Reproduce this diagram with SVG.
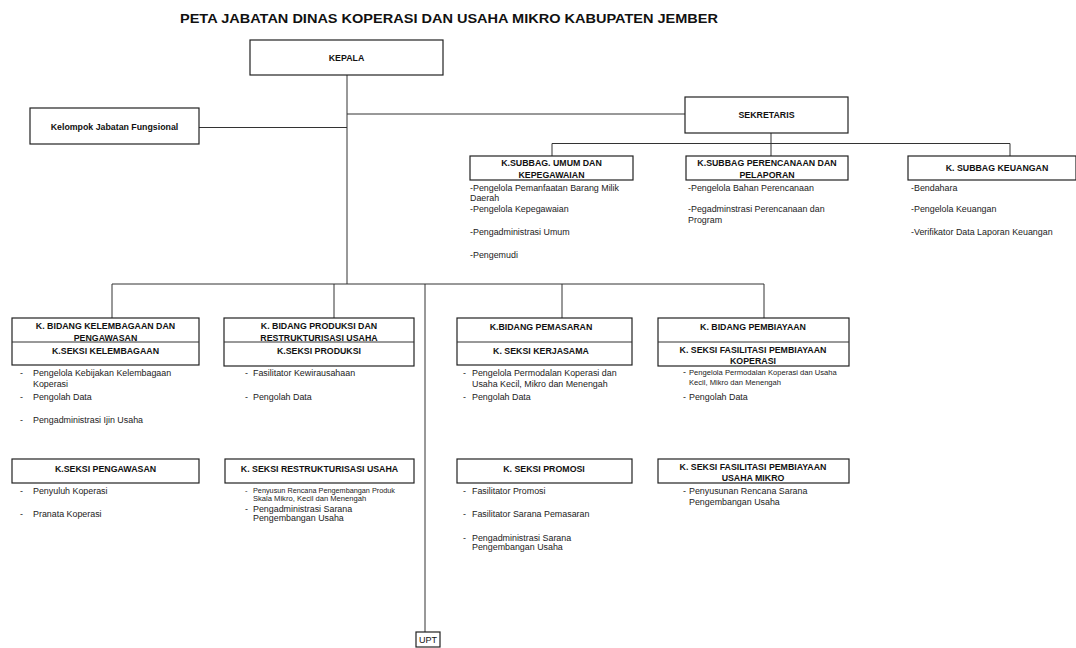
<svg xmlns="http://www.w3.org/2000/svg" width="1076" height="648" viewBox="0 0 1076 648">
<style>
.bx{fill:#fff;stroke:#222;stroke-width:1.2}
.ln{fill:none;stroke:#333;stroke-width:1}
.h{font-family:"Liberation Sans",Arial,sans-serif;font-weight:bold;font-size:8.8px;fill:#111;text-anchor:middle}
.t{font-family:"Liberation Sans",Arial,sans-serif;font-size:8.9px;fill:#222}
.s{font-family:"Liberation Sans",Arial,sans-serif;font-size:7.6px;fill:#222}
.title{font-family:"Liberation Sans",Arial,sans-serif;font-weight:bold;font-size:13px;fill:#111}
</style>
<rect width="1076" height="648" fill="#fff"/>
<text class="title" x="180" y="23" textLength="538" lengthAdjust="spacingAndGlyphs">PETA JABATAN DINAS KOPERASI DAN USAHA MIKRO KABUPATEN JEMBER</text>

<g id="connectors">
<path class="ln" d="M347 75V284M199 127.5H347M347 114H685M771 133V143.5M552 143.5H1010M552 143.5V156M771 143.5V156M1010 143.5V156"/>
<path class="ln" d="M112 284H764M112 284V318M334 284V318M562 284V318M764 284V318M425 284V632"/>
</g>

<g id="kepala"><rect class="bx" x="250" y="40" width="193" height="35"/><text class="h" x="346.5" y="61">KEPALA</text></g>
<g id="fungsional"><rect class="bx" x="30" y="108" width="169" height="36"/><text class="h" x="114.5" y="130">Kelompok Jabatan Fungsional</text></g>
<g id="sekretaris"><rect class="bx" x="685" y="97" width="163" height="36"/><text class="h" x="766.5" y="118">SEKRETARIS</text></g>

<g id="subbag-umum"><rect class="bx" x="470" y="156" width="163" height="24"/>
<text class="h" x="551.5" y="165.5">K.SUBBAG. UMUM DAN</text><text class="h" x="551.5" y="177.5">KEPEGAWAIAN</text>
<text class="t" x="470" y="191">-Pengelola Pemanfaatan Barang Milik</text><text class="t" x="470" y="201">Daerah</text>
<text class="t" x="470" y="212">-Pengelola Kepegawaian</text><text class="t" x="470" y="235">-Pengadministrasi Umum</text><text class="t" x="470" y="258">-Pengemudi</text></g>

<g id="subbag-perencanaan"><rect class="bx" x="686" y="156" width="162" height="24"/>
<text class="h" x="767" y="165.5">K.SUBBAG PERENCANAAN DAN</text><text class="h" x="767" y="177.5">PELAPORAN</text>
<text class="t" x="688" y="191">-Pengelola Bahan Perencanaan</text>
<text class="t" x="688" y="212">-Pegadminstrasi Perencanaan dan</text><text class="t" x="688" y="223">Program</text></g>

<g id="subbag-keuangan"><rect class="bx" x="908" y="156" width="168" height="24"/>
<text class="h" x="997" y="171">K. SUBBAG KEUANGAN</text>
<text class="t" x="911" y="191">-Bendahara</text><text class="t" x="911" y="212">-Pengelola Keuangan</text><text class="t" x="911" y="235">-Verifikator Data Laporan Keuangan</text></g>

<g id="bidang-kelembagaan"><rect class="bx" x="12" y="318" width="187" height="47"/><path class="ln" d="M12 342H199"/>
<text class="h" x="105.5" y="328.5">K. BIDANG KELEMBAGAAN DAN</text><text class="h" x="105.5" y="340.5">PENGAWASAN</text><text class="h" x="105.5" y="354">K.SEKSI KELEMBAGAAN</text>
<text class="t" x="20" y="376">-</text><text class="t" x="33" y="376">Pengelola Kebijakan Kelembagaan</text><text class="t" x="33" y="387">Koperasi</text>
<text class="t" x="20" y="400">-</text><text class="t" x="33" y="400">Pengolah Data</text>
<text class="t" x="20" y="423">-</text><text class="t" x="33" y="423">Pengadministrasi Ijin Usaha</text></g>

<g id="bidang-produksi"><rect class="bx" x="224" y="318" width="190" height="48"/><path class="ln" d="M224 342H414"/>
<text class="h" x="319" y="328.5">K. BIDANG PRODUKSI DAN</text><text class="h" x="319" y="340.5">RESTRUKTURISASI USAHA</text><text class="h" x="319" y="353.5">K.SEKSI PRODUKSI</text>
<text class="t" x="245" y="376">-</text><text class="t" x="253" y="376">Fasilitator Kewirausahaan</text>
<text class="t" x="245" y="400">-</text><text class="t" x="253" y="400">Pengolah Data</text></g>

<g id="bidang-pemasaran"><rect class="bx" x="457" y="318" width="175" height="47"/><path class="ln" d="M457 342H632"/>
<text class="h" x="541" y="330">K.BIDANG PEMASARAN</text><text class="h" x="541" y="353.5">K. SEKSI KERJASAMA</text>
<text class="t" x="463" y="376">-</text><text class="t" x="472" y="376">Pengelola Permodalan Koperasi dan</text><text class="t" x="472" y="387">Usaha Kecil, Mikro dan Menengah</text>
<text class="t" x="463" y="400">-</text><text class="t" x="472" y="400">Pengolah Data</text></g>

<g id="bidang-pembiayaan"><rect class="bx" x="658" y="318" width="191" height="48"/><path class="ln" d="M658 342H849"/>
<text class="h" x="753" y="330">K. BIDANG PEMBIAYAAN</text><text class="h" x="753" y="353">K. SEKSI FASILITASI PEMBIAYAAN</text><text class="h" x="753" y="363.5">KOPERASI</text>
<text class="t" x="683" y="375">-</text><text class="s" x="689" y="374.5">Pengelola Permodalan Koperasi dan Usaha</text><text class="s" x="689" y="384.5">Kecil, Mikro dan Menengah</text>
<text class="t" x="683" y="400">-</text><text class="t" x="689" y="400">Pengolah Data</text></g>

<g id="seksi-pengawasan"><rect class="bx" x="12" y="459" width="187" height="24"/><text class="h" x="105.5" y="471.5">K.SEKSI PENGAWASAN</text>
<text class="t" x="20" y="494">-</text><text class="t" x="33" y="494">Penyuluh Koperasi</text>
<text class="t" x="20" y="517">-</text><text class="t" x="33" y="517">Pranata Koperasi</text></g>

<g id="seksi-restrukturisasi"><rect class="bx" x="225" y="459" width="189" height="24"/><text class="h" x="319.5" y="471.5">K. SEKSI RESTRUKTURISASI USAHA</text>
<text class="s" x="245" y="493">-</text><text class="s" x="253" y="493" textLength="142" lengthAdjust="spacingAndGlyphs">Penyusun Rencana Pengembangan Produk</text><text class="s" x="253" y="500.5">Skala Mikro, Kecil dan Menengah</text>
<text class="t" x="245" y="512">-</text><text class="t" x="253" y="512">Pengadministrasi Sarana</text><text class="t" x="253" y="520.5">Pengembangan Usaha</text></g>

<g id="seksi-promosi"><rect class="bx" x="457" y="459" width="175" height="24"/><text class="h" x="544" y="471.5">K. SEKSI PROMOSI</text>
<text class="t" x="463" y="494">-</text><text class="t" x="472" y="494">Fasilitator Promosi</text>
<text class="t" x="463" y="517">-</text><text class="t" x="472" y="517">Fasilitator Sarana Pemasaran</text>
<text class="t" x="463" y="541">-</text><text class="t" x="472" y="541">Pengadministrasi Sarana</text><text class="t" x="472" y="550">Pengembangan Usaha</text></g>

<g id="seksi-pembiayaan-mikro"><rect class="bx" x="658" y="459" width="191" height="24"/><text class="h" x="753" y="469.5">K. SEKSI FASILITASI PEMBIAYAAN</text><text class="h" x="753" y="480.5">USAHA MIKRO</text>
<text class="t" x="683" y="494">-</text><text class="t" x="689" y="494">Penyusunan Rencana Sarana</text><text class="t" x="689" y="505">Pengembangan Usaha</text></g>

<g id="upt"><rect class="bx" x="416" y="632" width="24" height="15"/><text class="h" x="428" y="643" style="font-weight:normal;font-size:9px">UPT</text></g>
</svg>
